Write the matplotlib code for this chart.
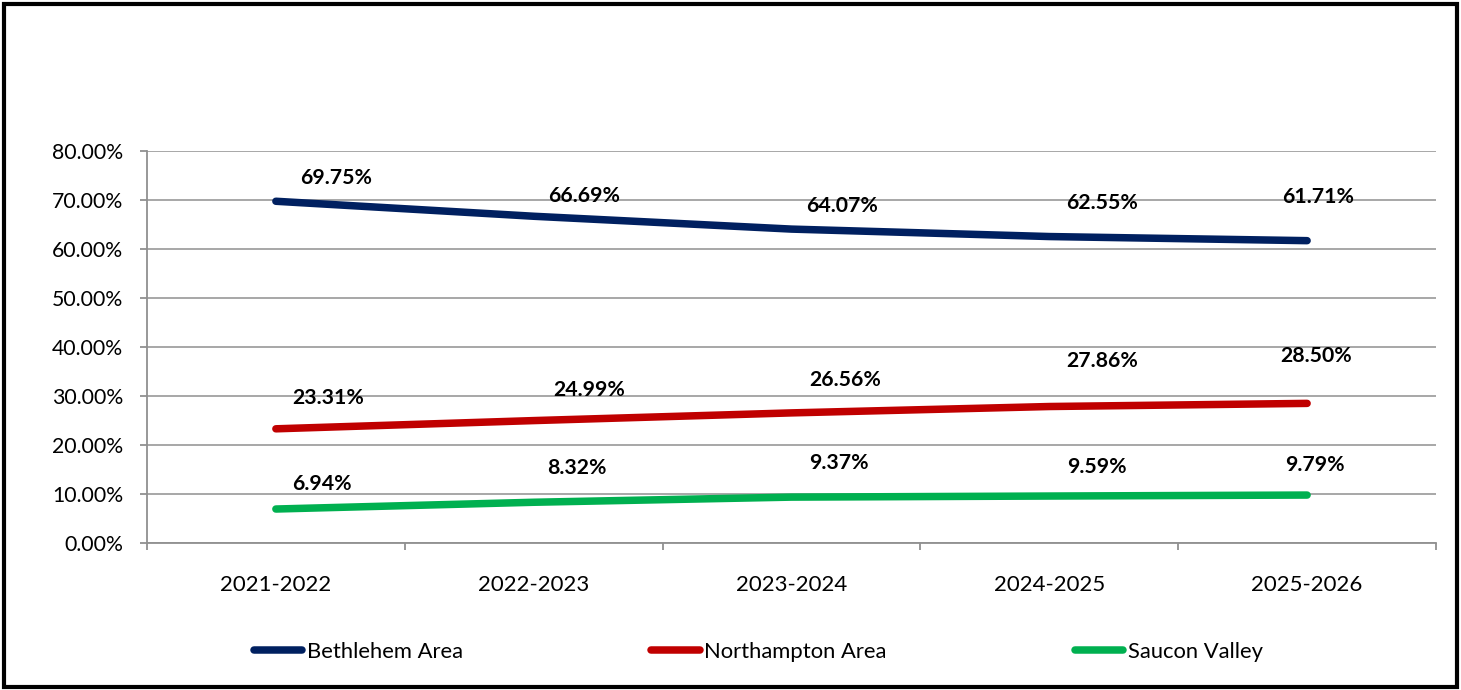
import matplotlib.pyplot as plt
from matplotlib.patches import Rectangle
from matplotlib.ticker import FuncFormatter, FixedLocator

years = ['2021-2022', '2022-2023', '2023-2024', '2024-2025', '2025-2026']
bethlehem = [69.75, 66.69, 64.07, 62.55, 61.71]
northampton = [23.31, 24.99, 26.56, 27.86, 28.50]
saucon = [6.94, 8.32, 9.37, 9.59, 9.79]

series = [
    ('Bethlehem Area', bethlehem, '#002060',
     [(60, 23), (50, 20), (51, 23), (53, 34), (11, 44)]),
    ('Northampton Area', northampton, '#C00000',
     [(52, 31), (55, 31), (54, 33), (53, 46), (9, 47)]),
    ('Saucon Valley', saucon, '#00B050',
     [(46, 25), (43, 34), (47, 34), (48, 29), (8, 30)]),
]

plt.rcParams['font.family'] = ['Lato', 'DejaVu Sans']

fig = plt.figure(figsize=(14.61, 6.90), dpi=100)
ax = fig.add_axes([0.1006, 0.2130, 0.8823, 0.5681])

x = list(range(len(years)))
for name, vals, col, offs in series:
    ax.plot(x, vals, color=col, lw=5.4, solid_capstyle='round', label=name)
    for xi, v, (dx, dy) in zip(x, vals, offs):
        ax.annotate(f'{v:.2f}%', (xi, v), xytext=(dx, dy), textcoords='offset pixels',
                    ha='center', va='center', fontsize=15.3, fontweight='bold')

ax.set_xlim(-0.5, 4.5)
ax.set_ylim(0, 80)
ax.set_yticks(range(0, 81, 10))
ax.yaxis.set_major_formatter(FuncFormatter(lambda v, p: f'{v:.2f}%'))
ax.set_xticks(x)
ax.set_xticklabels(years)
ax.xaxis.set_minor_locator(FixedLocator([i - 0.5 for i in range(len(years) + 1)]))
ax.tick_params(axis='x', which='major', length=0, pad=23, labelsize=16)
ax.tick_params(axis='x', which='minor', length=5, width=1.3, color='#909090', direction='out')
ax.tick_params(axis='y', length=5, width=1.3, color='#909090', pad=12, labelsize=15.3)
ax.yaxis.grid(True, color='#A0A0A0', lw=1.3)
ax.set_axisbelow(True)
for s in ['top', 'right']:
    ax.spines[s].set_visible(False)
for s in ['left', 'bottom']:
    ax.spines[s].set_color('#909090')
    ax.spines[s].set_linewidth(1.3)

fig.legend(loc='center', bbox_to_anchor=(0.519, 0.055), ncol=3, frameon=False,
           fontsize=15.8, handlelength=2.2, handletextpad=0.2, columnspacing=8.6)

fig.patches.append(Rectangle((4 / 1461, 3.5 / 690), 1453 / 1461, 683 / 690,
                             transform=fig.transFigure, fill=False, ec='black', lw=3))

fig.savefig('out.png', dpi=100)
